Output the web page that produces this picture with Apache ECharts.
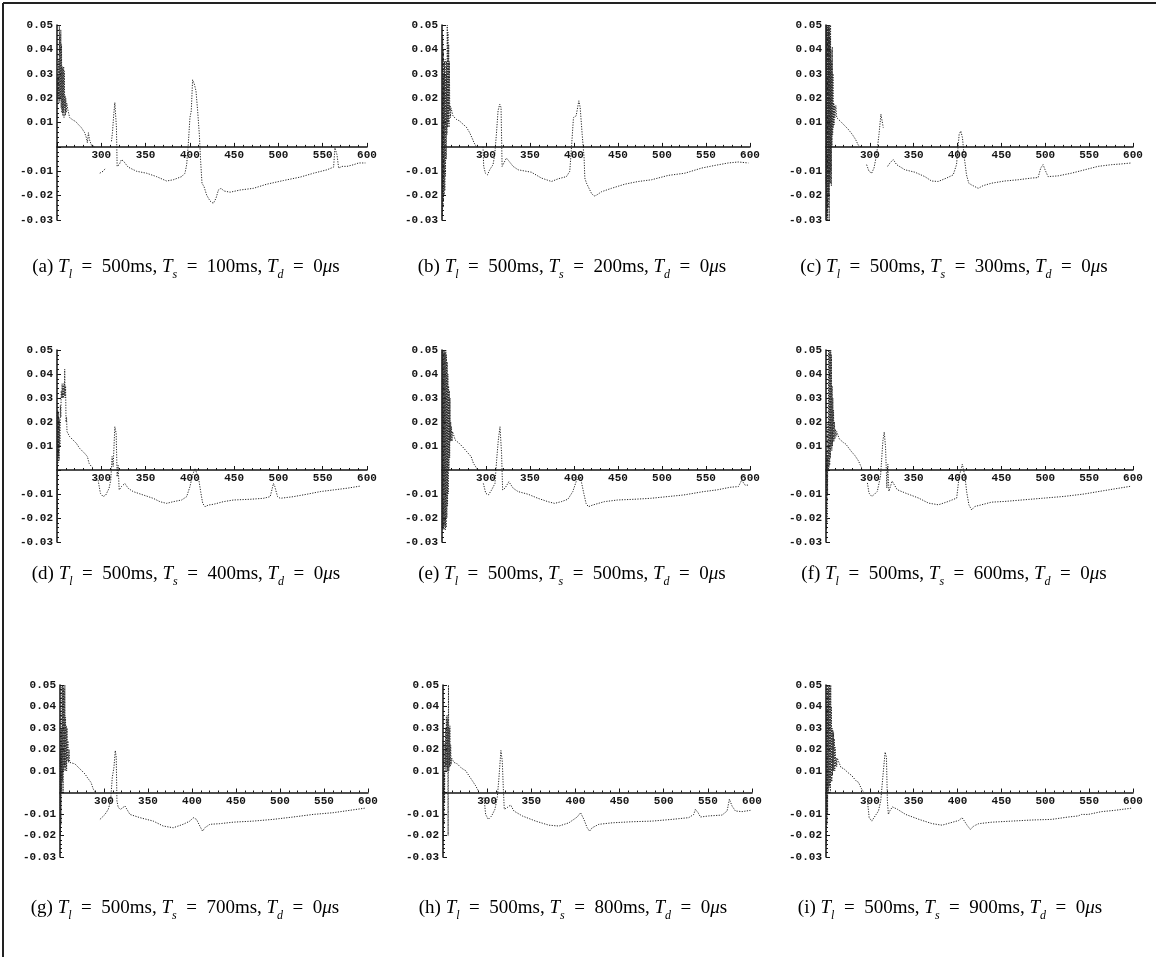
<!DOCTYPE html>
<html>
<head>
<meta charset="utf-8">
<script src="https://cdn.jsdelivr.net/npm/echarts@6/dist/echarts.min.js"></script>
<style>
html, body { margin: 0; padding: 0; background: #fff; }
#main { width: 1156px; height: 957px; }
</style>
</head>
<body>
<div id="main"></div>
<script>
// Panel parameters
const panelLetters = ['a', 'b', 'c', 'd', 'e', 'f', 'g', 'h', 'i'];
const tlValue = 500;
const tsValues = [100, 200, 300, 400, 500, 600, 700, 800, 900];
const tdValue = 0;

// Axis ranges and tick spacing
const xRange = [250, 600];
const xStep = 50;
const yRange = [-0.03, 0.05];
const yStep = 0.01;

// null marks a break in the trace
const GAP = null;

const seriesA = [
  [250.3,0.028],[250.7,0.019],[251.1,0.03],[251.5,0.02],[251.9,0.036],[252.3,0.018],[252.7,0.05],[253.1,0.019],[253.5,0.046],[253.9,0.02],[254.3,0.048],[254.7,0.016],[255.1,0.042],[255.5,0.014],[255.9,0.033],[256.3,0.013],[256.7,0.032],[257.1,0.014],[257.5,0.033],[257.9,0.012],[258.3,0.031],[258.7,0.016],[259.1,0.021],[259.5,0.013],[259.9,0.02],[260.4,0.014],[261,0.018],
  [262.4,0.015],[264.3,0.012],[266.2,0.0125],[268.1,0.011],[271.1,0.0104],[273.8,0.0093],[277.5,0.0079],[281.3,0.0058],[283.2,0.0037],[284.3,0.0017],[285.5,0.0058],[286.6,0.003],[288.9,0.0007],[292.6,0],GAP,
  [298.3,-0.0108],[300.2,-0.0115],[302,-0.01],[305,-0.0087],GAP,
  [311.5,0.0023],[312.6,0.0058],[314.1,0.0134],[315.3,0.0182],[316.4,0.0175],[317.1,0.008],[317.9,-0.008],[320.2,-0.0073],[322.8,-0.0052],[325.4,-0.006],[330.3,-0.0083],[339.8,-0.01],[351.1,-0.0108],[362.4,-0.0122],[373.7,-0.014],[381.3,-0.0135],[390.7,-0.0122],[394.5,-0.0108],[396.4,-0.0073],[398.2,0.001],[400.1,0.012],[401.6,0.0148],[403.1,0.0275],[405,0.0258],[406.9,0.023],[408.8,0.0148],[410.7,0.0051],[412.2,-0.006],[413.7,-0.0149],[416,-0.0163],[419,-0.0198],[422.8,-0.0222],[426.5,-0.0232],[429.5,-0.0211],[432.2,-0.0177],[435.2,-0.017],[438.6,-0.0181],[445.4,-0.0186],[456.7,-0.0177],[471.8,-0.017],[486.9,-0.0153],[505.7,-0.0138],[524.6,-0.0124],[539.7,-0.0108],[554.8,-0.0094],[562.3,-0.0083],[563.8,-0.0004],[566.1,-0.0032],[568,-0.0087],[571.8,-0.008],[577.4,-0.008],[585,-0.0073],[590.6,-0.0066],[598.2,-0.0066]
];

const seriesB = [
  [250.2,0.01],[250.5,-0.028],[250.8,0.045],[251.1,-0.025],[251.4,0.04],[251.7,-0.022],[252,0.03],[252.4,-0.02],[252.8,0.035],[253.2,-0.018],[253.6,0.036],[254,-0.012],[254.4,0.03],[254.8,-0.005],[255.2,0.035],[255.6,0.005],[256,0.05],[256.4,0.008],[256.8,0.047],[257.2,0.01],[257.6,0.042],[258,0.008],[258.4,0.035],[258.8,0.015],[259.2,0.017],[259.6,0.012],[260.2,0.016],
  [262.5,0.0127],[266.3,0.0113],[270.1,0.0106],[273.9,0.0093],[277.7,0.0081],[281.5,0.0058],[284.1,0.0037],[286.4,0.0017],[289.1,0],GAP,
  [296.6,0],[297.4,-0.008],[299.3,-0.0108],[301.6,-0.0115],[304.2,-0.0094],[308,-0.0073],[309.9,-0.0032],[311.8,0.0051],[313.7,0.0148],[315.6,0.0175],[317.1,0.0162],[318.3,-0.008],[320.5,-0.0073],[323.2,-0.0046],[325.8,-0.0057],[330.8,-0.008],[336.5,-0.0094],[351.6,-0.0104],[363,-0.0128],[374.4,-0.0142],[382,-0.0131],[391.4,-0.0122],[395.2,-0.01],[397.1,-0.0004],[399.4,0.012],[402.4,0.0127],[405.5,0.0189],[407,0.0162],[409.3,0.0051],[411.5,-0.0046],[412.3,-0.0128],[414.2,-0.0149],[416.1,-0.0163],[419.9,-0.0191],[422.9,-0.0202],[425.6,-0.0198],[431.3,-0.0184],[442.6,-0.017],[457.8,-0.0153],[473,-0.0142],[488.1,-0.0135],[507.1,-0.0117],[526,-0.0108],[545,-0.0087],[560.2,-0.0076],[575.3,-0.0066],[586.7,-0.0062],[598.1,-0.0066]
];

const seriesC = [
  [250.1,-0.015],[250.4,0.05],[250.7,-0.03],[251,0.05],[251.3,-0.028],[251.6,0.049],[251.9,-0.03],[252.2,0.05],[252.5,-0.025],[252.8,0.05],[253.1,-0.02],[253.4,0.048],[253.7,-0.03],[254,0.05],[254.3,-0.015],[254.6,0.045],[254.9,-0.015],[255.2,0.05],[255.5,-0.01],[255.8,0.04],[256.1,-0.016],[256.4,0.035],[256.8,0],[257.2,0.041],[257.6,0.005],[258,0.03],[258.4,0.008],[258.8,0.018],[259.2,0.009],[259.6,0.017],[260.2,0.012],[261.2,0.017],[262.2,0.012],
  [264,0.0113],[267.8,0.01],[271.6,0.0086],[275.4,0.0072],[280,0.0051],[283.8,0.003],[286.8,0.0007],[289.9,0],GAP,
  [296.3,-0.0073],[299,-0.01],[302,-0.0108],[304.7,-0.0087],[307.7,-0.0032],[310.4,0.0051],[312.6,0.0134],[314.2,0.0141],[315.3,0.0079],GAP,
  [320.2,-0.008],[322.9,-0.0066],[326.7,-0.0052],[330.5,-0.0073],[340,-0.0094],[351.4,-0.0104],[362.7,-0.0122],[370.3,-0.014],[377.9,-0.0142],[387.4,-0.0128],[395,-0.0115],[398.8,-0.0073],[401.8,0.0051],[403.7,0.0065],[405.6,0.0037],[407.5,-0.0039],[410.2,-0.0115],[412.8,-0.0149],[415.9,-0.0156],[419.7,-0.0163],[423.5,-0.017],[429.2,-0.0159],[438.7,-0.0149],[453.8,-0.014],[469,-0.0135],[484.2,-0.0128],[491.8,-0.0126],[494.8,-0.0087],[497.5,-0.0073],[500.2,-0.0098],[503.2,-0.0122],[514.6,-0.0119],[529.8,-0.0108],[545,-0.0094],[560.1,-0.008],[575.3,-0.0073],[586.7,-0.007],[598.1,-0.0066]
];

const seriesD = [
  [250.2,0.024],[250.5,-0.022],[250.8,0.025],[251.1,0.003],[251.4,0.024],[251.7,0.005],[252,0.022],[252.4,0.004],[252.8,0.021],[253.3,0.01],[253.8,0.027],[254.3,0.022],[254.8,0.033],[255.3,0.03],[255.8,0.036],[256.3,0.03],[256.8,0.035],[257.3,0.03],[257.8,0.036],[258.3,0.031],[258.7,0.042],[259.2,0.03],[259.7,0.035],[260.2,0.02],[260.8,0.022],[261.3,0.016],
  [264.3,0.0139],[268.1,0.0125],[271.9,0.0111],[275.6,0.009],[281.3,0.0069],[284.3,0.0056],[286.2,0.0028],[288.9,0.0014],[291.5,0.0007],GAP,
  [296.4,-0.0042],[299,-0.0097],[302.1,-0.0111],[305.1,-0.0104],[308.8,-0.0076],[310.7,-0.0042],[312.2,0.0056],[313.4,0.0014],[315.3,0.018],[316.8,0.0153],[317.9,-0.0028],[319,0.002],[320.2,-0.0083],[322.8,-0.0069],[326.6,-0.0056],[330.3,-0.0076],[336,-0.009],[347.3,-0.0104],[358.6,-0.0118],[366.2,-0.0132],[373.7,-0.0139],[381.3,-0.0132],[390.7,-0.0125],[396.4,-0.0111],[400.1,-0.0069],[403.1,-0.0021],[405.8,0.0007],[407.7,0],[409.9,-0.0035],[412.2,-0.009],[414.5,-0.0139],[417.1,-0.0153],[420.9,-0.0146],[426.5,-0.0143],[437.8,-0.0132],[449.2,-0.0125],[468,-0.0122],[483.1,-0.0118],[490.7,-0.0111],[494.4,-0.0056],[495.9,-0.0069],[499,-0.0111],[502,-0.0118],[517.1,-0.0111],[532.1,-0.0101],[547.2,-0.009],[562.3,-0.0083],[577.4,-0.0076],[592.5,-0.0067]
];

const seriesE = [
  [250.1,-0.024],[250.4,0.05],[250.7,-0.025],[251.1,0.05],[251.5,-0.024],[251.9,0.049],[252.3,-0.025],[252.7,0.05],[253.1,-0.023],[253.5,0.049],[253.9,-0.025],[254.3,0.05],[254.7,-0.024],[255.1,0.048],[255.5,-0.02],[255.9,0.045],[256.3,-0.015],[256.7,0.04],[257.1,-0.01],[257.5,0.035],[257.9,0],[258.3,0.033],[258.7,0.005],[259.1,0.03],[259.5,0.012],[259.9,0.02],[260.3,0.012],[260.8,0.018],[261.4,0.012],[262,0.016],
  [265,0.0125],[269.6,0.0111],[273.3,0.0097],[278.2,0.0076],[283.1,0.0056],[285.7,0.0028],[289.5,0.0007],[292.1,-0.0003],GAP,
  [297,-0.0056],[299.7,-0.0097],[302.7,-0.0104],[306.4,-0.0083],[310.2,-0.0056],[312.1,0.0042],[314,0.0125],[315.9,0.018],[317.7,0.0069],[318.9,-0.0083],[321.5,-0.0076],[326,-0.0049],[330.9,-0.0076],[336.5,-0.009],[347.8,-0.0101],[359.1,-0.0118],[370.4,-0.0132],[377.9,-0.0139],[385.5,-0.0132],[393,-0.0122],[398.6,-0.009],[402.4,-0.0049],[405,-0.0028],[408,-0.0042],[411.1,-0.0097],[413.7,-0.0139],[416.3,-0.0153],[421.2,-0.0146],[434.4,-0.0132],[449.4,-0.0125],[468.2,-0.0122],[487.1,-0.0118],[505.9,-0.0111],[524.7,-0.0104],[536,-0.0097],[547.3,-0.009],[562.3,-0.0083],[577.4,-0.0072],[586.8,-0.0069],[590.6,-0.0042],[594.3,-0.0063],[599.2,-0.0063]
];

const seriesF = [
  [250.2,0.005],[250.5,-0.025],[250.8,0.008],[251.1,-0.022],[251.4,0.006],[251.8,-0.01],[252.2,0.02],[252.6,0],[253,0.05],[253.4,0.001],[253.8,0.049],[254.2,0.002],[254.6,0.05],[255,0.005],[255.4,0.05],[255.8,0.01],[256.2,0.048],[256.6,0.008],[257,0.035],[257.4,0.01],[257.8,0.03],[258.2,0.012],[258.6,0.025],[259.1,0.012],[259.6,0.02],[260.2,0.013],[260.8,0.017],[261.5,0.014],[262.2,0.016],
  [265.1,0.013],[269.6,0.0115],[272.6,0.0108],[278.3,0.008],[283.2,0.0059],[287,0.0038],[289.6,0.0017],[291.5,0.0003],GAP,
  [297.2,-0.0054],[299,-0.0096],[302.1,-0.011],[304.7,-0.0103],[308.5,-0.0089],[312.2,-0.0025],[314.9,0.0123],[316.4,0.0158],[317.9,0.0094],[319.4,-0.0075],[320.5,0.0024],[321.7,-0.0089],[325.4,-0.0046],[331.1,-0.0082],[340.5,-0.0096],[355.6,-0.0117],[366.9,-0.0138],[378.2,-0.0145],[389.5,-0.0131],[399,-0.0117],[401.6,-0.0032],[405.4,0.0024],[408.4,-0.0025],[410.3,-0.0089],[412.9,-0.0145],[416,-0.0166],[419.7,-0.0152],[427.3,-0.0145],[438.6,-0.0134],[453.7,-0.0131],[476.3,-0.0124],[499,-0.0117],[521.6,-0.011],[544.2,-0.01],[566.8,-0.0086],[581.9,-0.0077],[597,-0.0068]
];

const seriesG = [
  [250.2,0.015],[250.5,-0.02],[250.8,0.02],[251.1,-0.015],[251.5,0.03],[251.9,0],[252.3,0.05],[252.7,0.005],[253.1,0.05],[253.5,0],[253.9,0.049],[254.3,0.01],[254.7,0.048],[255.1,0.012],[255.5,0.05],[255.9,0.01],[256.3,0.035],[256.7,0.012],[257.1,0.031],[257.5,0.01],[258,0.03],[258.5,0.015],[259,0.024],[259.6,0.014],[260.3,0.02],[261,0.014],
  [263.2,0.014],[267,0.0133],[270.8,0.0117],[274.6,0.0102],[278.4,0.0086],[282.2,0.0063],[285.2,0.0047],[287.8,0.0016],[290.5,0],GAP,
  [295.4,-0.0125],[297.3,-0.0117],[301.1,-0.0102],[304.9,-0.0078],[307.5,-0.0039],[309.4,0.007],[311.3,0.0117],[312.8,0.0195],[313.9,0.0164],[314.7,-0.0039],[316.2,-0.007],[318.9,-0.0078],[323.8,-0.0063],[329.5,-0.0102],[340.8,-0.0117],[356,-0.0133],[367.3,-0.0156],[378.7,-0.0164],[389.9,-0.0148],[397.6,-0.0133],[401.4,-0.0117],[405.1,-0.0125],[408.9,-0.0156],[412,-0.018],[414.6,-0.0164],[420.3,-0.0148],[431.6,-0.0145],[446.8,-0.0138],[469.5,-0.0133],[492.2,-0.0125],[514.9,-0.0114],[537.6,-0.0102],[560.3,-0.0094],[579.2,-0.0083],[596.2,-0.0073]
];

const seriesH = [
  [250.1,0.024],[250.4,-0.022],[250.7,0.02],[251,-0.015],[251.4,0.01],[251.8,-0.005],[252.2,0.023],[252.6,0.012],[253,0.03],[253.4,0.01],[253.8,0.035],[254.2,0.012],[254.6,0.036],[255,0.01],[255.4,0.034],[255.8,-0.02],[256.2,0.05],[256.6,0.01],[257,0.03],[257.4,0.012],[257.8,0.031],[258.2,0.012],[258.7,0.022],[259.2,0.013],[259.8,0.016],
  [262.4,0.014],[266.2,0.0133],[270,0.0117],[272.6,0.0109],[275.6,0.0102],[279.4,0.0078],[283.2,0.0055],[287,0.0031],[290,0.0008],GAP,
  [296.4,-0.0023],[298.3,-0.0102],[301.3,-0.0125],[305.1,-0.0109],[308.8,-0.0078],[311.5,-0.0023],[313.4,0.007],[315.6,0.0195],[317.1,0.0148],[318.3,0.0023],[319.4,-0.0078],[322.8,-0.007],[326.6,-0.0058],[330.3,-0.0086],[339.8,-0.0109],[354.9,-0.0133],[370,-0.0152],[381.3,-0.0156],[392.6,-0.0141],[402,-0.0114],[405.8,-0.0094],[409.6,-0.0125],[413.3,-0.0164],[416,-0.018],[419,-0.0164],[426.5,-0.0148],[441.6,-0.0141],[464.2,-0.0136],[486.9,-0.0133],[509.5,-0.0125],[528.4,-0.0117],[534,-0.0102],[535.9,-0.0078],[538.9,-0.0094],[541.6,-0.0114],[551,-0.0109],[566.1,-0.0105],[571.8,-0.0086],[574.4,-0.0031],[577.4,-0.0063],[581.2,-0.0086],[588.7,-0.0089],[598.2,-0.0083]
];

const seriesI = [
  [250.2,0.005],[250.5,-0.025],[250.8,0.04],[251.1,-0.015],[251.4,0.05],[251.8,-0.01],[252.2,0.048],[252.6,0],[253,0.05],[253.4,0.002],[253.8,0.05],[254.2,0.003],[254.6,0.049],[255,0],[255.4,0.05],[255.8,0.005],[256.2,0.04],[256.6,0.005],[257,0.03],[257.4,0.008],[257.8,0.029],[258.2,0.01],[258.6,0.028],[259,0.01],[259.5,0.025],[260,0.01],[260.5,0.021],[261,0.012],[261.6,0.016],[262.2,0.012],[262.8,0.016],
  [267,0.0117],[270.8,0.0109],[274.6,0.0094],[279.5,0.0078],[284.1,0.0055],[287.1,0.0047],[289.7,0.0023],[292.4,0.0005],GAP,
  [297.3,-0.0039],[299.2,-0.0117],[302.2,-0.0133],[306,-0.0109],[309.8,-0.0086],[312.4,-0.0039],[315.1,0.0086],[317.4,0.0188],[318.9,0.0164],[320,-0.0039],[321.1,-0.0102],[322.7,-0.0086],[325.7,-0.0067],[331.4,-0.0078],[340.8,-0.0102],[356,-0.0125],[371.1,-0.0145],[382.4,-0.0152],[391.9,-0.0141],[401.4,-0.013],[405.1,-0.0117],[407.8,-0.0133],[410.8,-0.0152],[414.6,-0.0172],[418.4,-0.0156],[424.1,-0.0145],[439.2,-0.0138],[461.9,-0.0133],[484.6,-0.0128],[507.3,-0.0125],[526.2,-0.0114],[537.6,-0.0109],[541.4,-0.0102],[548.9,-0.0102],[564.1,-0.0089],[579.2,-0.0083],[598.1,-0.0073]
];

const panelSeries = [seriesA, seriesB, seriesC, seriesD, seriesE, seriesF, seriesG, seriesH, seriesI];

// Plot boxes: left, top, width, height (px)
const plotBoxes = [
  [57, 25, 310, 195], [442, 25, 308, 195], [826, 25, 307, 195],
  [57, 350, 310, 192], [442, 350, 308, 192], [826, 350, 307, 192],
  [60, 685, 308, 172], [443, 685, 309, 172], [826, 685, 307, 172]
];
// Caption centres (px)
const captionCentres = [
  [186, 267], [572, 267], [954, 267],
  [186, 574], [572, 574], [954, 574],
  [185, 908], [573, 908], [950, 908]
];

const INK = '#141414';
const tickFont = { fontFamily: 'Liberation Mono', fontWeight: 'bold', fontSize: 11, color: INK };
// fraction of the plot height that lies below y = 0
const zeroFrac = (0 - yRange[0]) / (yRange[1] - yRange[0]);

const grids = [], xAxes = [], yAxes = [], series = [];
plotBoxes.forEach((b, i) => {
  grids.push({ left: b[0], top: b[1], width: b[2], height: b[3], containLabel: false });
  xAxes.push({
    gridIndex: i, type: 'value', min: xRange[0], max: xRange[1], interval: xStep,
    position: 'bottom',
    // the horizontal axis runs along y = 0, with its labels just beneath it
    offset: -b[3] * zeroFrac,
    axisLine: { onZero: false, lineStyle: { color: INK, width: 1.5 } },
    axisTick: { show: true, inside: true, length: 4, lineStyle: { color: INK, width: 1 } },
    minorTick: { show: true, splitNumber: 5, length: 2, lineStyle: { color: INK, width: 1 } },
    splitLine: { show: false },
    axisLabel: Object.assign({ margin: 3, formatter: v => (v === xRange[0] ? '' : String(v)) }, tickFont)
  });
  yAxes.push({
    gridIndex: i, type: 'value', min: yRange[0], max: yRange[1], interval: yStep,
    axisLine: { show: true, onZero: false, lineStyle: { color: INK, width: 1.5 } },
    axisTick: { show: true, inside: true, length: 4, lineStyle: { color: INK, width: 1 } },
    minorTick: { show: true, splitNumber: 5, length: 2, lineStyle: { color: INK, width: 1 } },
    splitLine: { show: false },
    axisLabel: Object.assign({ margin: 4, formatter: v => (Math.abs(v) < 1e-9 ? '' : v.toFixed(2)) }, tickFont)
  });
  series.push({
    type: 'line', xAxisIndex: i, yAxisIndex: i,
    data: panelSeries[i].map(p => (p === GAP ? [null, null] : p)),
    symbol: 'none', showSymbol: false, connectNulls: false,
    lineStyle: { color: '#262626', width: 1, type: [1.2, 1.4] },
    emphasis: { disabled: true }, silent: true, animation: false
  });
});

const captionRich = {
  n: { fontFamily: 'Liberation Serif', fontSize: 19, fill: '#000', lineHeight: 27 },
  it: { fontFamily: 'Liberation Serif', fontStyle: 'italic', fontSize: 19, fill: '#000', lineHeight: 27 },
  sub: { fontFamily: 'Liberation Serif', fontStyle: 'italic', fontSize: 12, fill: '#000', verticalAlign: 'bottom' }
};
// en spaces give the wider math spacing around "="
const SP = '\u2002';
function captionText(i) {
  return '{n|(' + panelLetters[i] + ') }{it|T}{sub|l}{n|' + SP + '=' + SP + tlValue + 'ms, }' +
         '{it|T}{sub|s}{n|' + SP + '=' + SP + tsValues[i] + 'ms, }' +
         '{it|T}{sub|d}{n|' + SP + '=' + SP + tdValue + '}{it|μ}{n|s}';
}

const graphics = captionCentres.map((c, i) => ({
  type: 'text', x: c[0], y: c[1], silent: true,
  style: { text: captionText(i), rich: captionRich, align: 'center', verticalAlign: 'middle', fill: '#000' }
}));
// Figure frame: top and left rules
graphics.push({ type: 'line', silent: true, shape: { x1: 3, y1: 3, x2: 1156, y2: 3 }, style: { stroke: '#222', lineWidth: 2 } });
graphics.push({ type: 'line', silent: true, shape: { x1: 3, y1: 3, x2: 3, y2: 957 }, style: { stroke: '#222', lineWidth: 2 } });

const chart = echarts.init(document.getElementById('main'), null, { renderer: 'canvas' });
chart.setOption({
  backgroundColor: '#fff',
  animation: false,
  grid: grids,
  xAxis: xAxes,
  yAxis: yAxes,
  series: series,
  graphic: graphics
});
</script>
</body>
</html>
